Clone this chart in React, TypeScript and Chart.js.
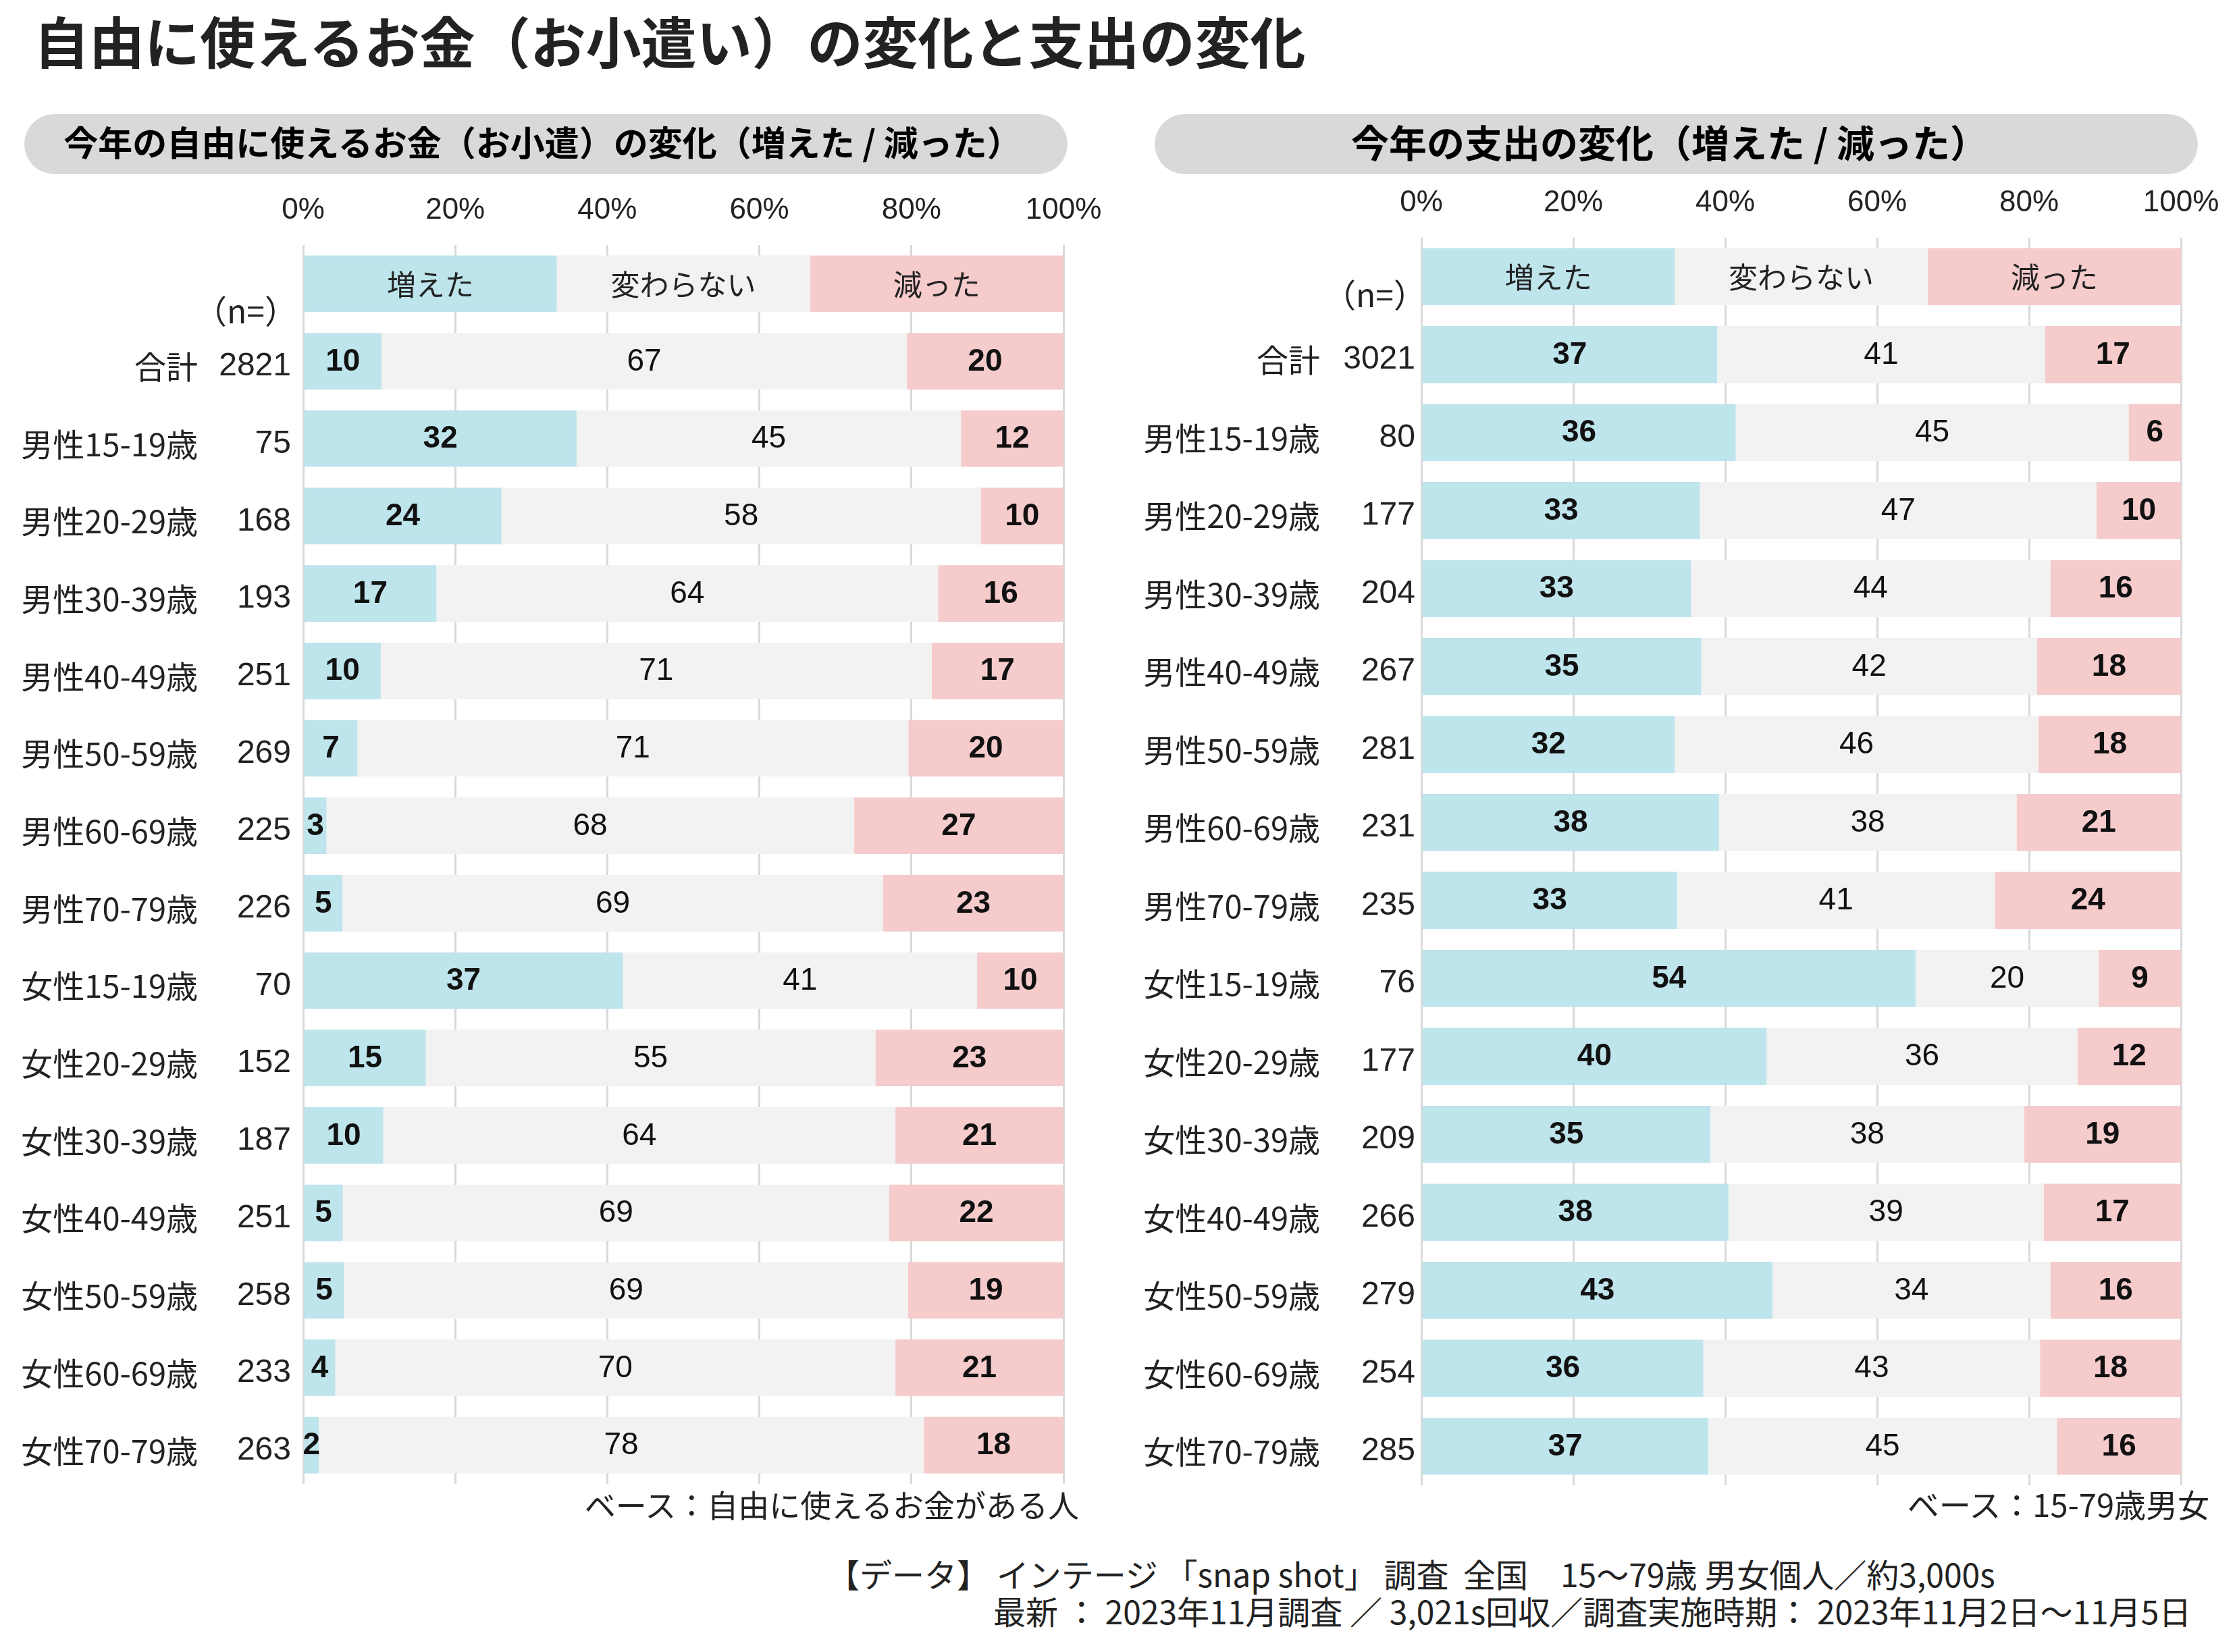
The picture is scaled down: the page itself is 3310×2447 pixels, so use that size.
import React, { useEffect, useRef } from 'react';
import { Chart, registerables } from 'chart.js';

Chart.register(...registerables);

const JP = '"Noto Sans CJK JP", "Noto Sans", sans-serif';
const NUM = '"Liberation Sans", Arial, sans-serif';

const seriesNames = ['増えた', '変わらない', '減った'];
const seriesColors = ['#bee4ec', '#f2f2f2', '#f5cbcc'];
const xTickLabels = ['0%', '20%', '40%', '60%', '80%', '100%'];

const categories = [
  '合計',
  '男性15-19歳', '男性20-29歳', '男性30-39歳', '男性40-49歳', '男性50-59歳', '男性60-69歳', '男性70-79歳',
  '女性15-19歳', '女性20-29歳', '女性30-39歳', '女性40-49歳', '女性50-59歳', '女性60-69歳', '女性70-79歳',
];

// 左：自由に使えるお金（お小遣）の変化
const leftN = [2821, 75, 168, 193, 251, 269, 225, 226, 70, 152, 187, 251, 258, 233, 263];
const leftIncreased = [10, 32, 24, 17, 10, 7, 3, 5, 37, 15, 10, 5, 5, 4, 2];
const leftSame = [67, 45, 58, 64, 71, 71, 68, 69, 41, 55, 64, 69, 69, 70, 78];
const leftDecreased = [20, 12, 10, 16, 17, 20, 27, 23, 10, 23, 21, 22, 19, 21, 18];

// 右：支出の変化
const rightN = [3021, 80, 177, 204, 267, 281, 231, 235, 76, 177, 209, 266, 279, 254, 285];
const rightIncreased = [37, 36, 33, 33, 35, 32, 38, 33, 54, 40, 35, 38, 43, 36, 37];
const rightSame = [41, 45, 47, 44, 42, 46, 38, 41, 20, 36, 38, 39, 34, 43, 45];
const rightDecreased = [17, 6, 10, 16, 18, 18, 21, 24, 9, 12, 19, 17, 16, 18, 16];

type PanelCfg = {
  n: number[];
  values: number[][];
  nameRightX: number;
  nRightX: number;
  nHeaderRightX: number;
  nHeaderOffset: number;
  padding: { left: number; right: number; top: number; bottom: number };
};

function buildChart(canvas: HTMLCanvasElement, cfg: PanelCfg) {
  const sums = cfg.n.map((_, i) => cfg.values[0][i] + cfg.values[1][i] + cfg.values[2][i]);
  const labels = ['', ...categories];
  const datasets = cfg.values.map((vals, k) => ({
    label: seriesNames[k],
    data: [100 / 3, ...vals.map((v, i) => (v / sums[i]) * 100)],
    backgroundColor: seriesColors[k],
    borderWidth: 0,
    barPercentage: 0.73,
    categoryPercentage: 1,
  }));

  const plugin = {
    id: 'panelLabels',
    afterDatasetsDraw(chart: any) {
      const ctx = chart.ctx as CanvasRenderingContext2D;
      ctx.save();
      ctx.textBaseline = 'middle';
      ctx.textAlign = 'center';
      chart.data.datasets.forEach((_: any, di: number) => {
        const meta = chart.getDatasetMeta(di);
        meta.data.forEach((el: any, j: number) => {
          const p = el.getProps(['x', 'y', 'base'], true);
          const cx = (p.x + p.base) / 2;
          let text: string;
          if (j === 0) {
            text = seriesNames[di];
            ctx.font = `400 43px ${JP}`;
            ctx.fillStyle = '#222';
          } else {
            text = String(cfg.values[di][j - 1]);
            ctx.font = di === 1 ? `400 46px ${NUM}` : `700 46px ${NUM}`;
            ctx.fillStyle = '#111';
          }
          ctx.fillText(text, cx, p.y + 1);
        });
      });
      const yScale = chart.scales.y;
      ctx.fillStyle = '#222';
      ctx.textAlign = 'right';
      ctx.font = `400 48px ${JP}`;
      ctx.fillText('（n=）', cfg.nHeaderRightX, yScale.getPixelForValue(0) + cfg.nHeaderOffset);
      categories.forEach((c, i) => {
        const y = yScale.getPixelForValue(i + 1) + 8;
        ctx.textAlign = 'right';
        ctx.font = `400 47px ${JP}`;
        ctx.fillText(c, cfg.nameRightX, y);
        ctx.font = `400 48px ${NUM}`;
        ctx.fillText(String(cfg.n[i]), cfg.nRightX, y);
      });
      ctx.restore();
    },
  };

  return new Chart(canvas, {
    type: 'bar',
    data: { labels, datasets },
    options: {
      indexAxis: 'y',
      responsive: false,
      animation: false,
      layout: { padding: cfg.padding },
      plugins: { legend: { display: false }, tooltip: { enabled: false }, title: { display: false } },
      scales: {
        x: {
          type: 'linear',
          position: 'top',
          stacked: true,
          min: 0,
          max: 100,
          ticks: {
            stepSize: 20,
            padding: 25,
            color: '#222',
            font: { size: 44, family: NUM },
            callback: (_v: any, i: number) => xTickLabels[i],
          },
          grid: { color: '#d9d9d9', lineWidth: 3, drawTicks: false },
          border: { display: false },
          afterFit: (s: any) => {
            s.height = 113;
          },
        },
        y: {
          stacked: true,
          display: false,
        },
      },
    },
    plugins: [plugin],
  } as any);
}

function Panel(props: { cfg: PanelCfg; left: number; top: number; width: number; height: number }) {
  const ref = useRef<HTMLCanvasElement>(null);
  useEffect(() => {
    if (!ref.current) return;
    const chart = buildChart(ref.current, props.cfg);
    return () => chart.destroy();
  }, []);
  return (
    <canvas
      ref={ref}
      width={props.width}
      height={props.height}
      style={{ position: 'absolute', left: props.left, top: props.top, width: props.width, height: props.height }}
    />
  );
}

const leftCfg: PanelCfg = {
  n: leftN,
  values: [leftIncreased, leftSame, leftDecreased],
  nameRightX: 293,
  nRightX: 431,
  nHeaderRightX: 440,
  nHeaderOffset: 40,
  padding: { left: 449, right: 90, top: 0, bottom: 52 },
};

const rightCfg: PanelCfg = {
  n: rightN,
  values: [rightIncreased, rightSame, rightDecreased],
  nameRightX: 305,
  nRightX: 446,
  nHeaderRightX: 462,
  nHeaderOffset: 27,
  padding: { left: 455, right: 90, top: 0, bottom: 39 },
};

const pill = (left: number, width: number, text: string, size: number, padRight: number) => (
  <div
    style={{
      position: 'absolute',
      left,
      top: 169,
      width,
      height: 89,
      borderRadius: 45,
      background: '#d9d9d9',
      display: 'flex',
      alignItems: 'center',
      justifyContent: 'center',
      boxSizing: 'border-box',
      paddingRight: padRight,
      paddingBottom: 10,
      fontFamily: JP,
      fontWeight: 700,
      fontSize: size,
      color: '#000',
      whiteSpace: 'pre',
    }}
  >
    {text}
  </div>
);

const textStyle = (extra: React.CSSProperties): React.CSSProperties => ({
  position: 'absolute',
  fontFamily: JP,
  whiteSpace: 'pre',
  color: '#222',
  ...extra,
});

export default function App() {
  return (
    <div
      style={{
        position: 'absolute',
        left: 0,
        top: 0,
        width: 3310,
        height: 2447,
        background: '#fff',
        overflow: 'hidden',
      }}
    >
      <div style={textStyle({ left: 50, top: 9, height: 100, lineHeight: '100px', fontSize: 82, fontWeight: 700, color: '#222' })}>
        自由に使えるお金（お小遣い）の変化と支出の変化
      </div>
      {pill(36, 1545, '今年の自由に使えるお金（お小遣）の変化（増えた / 減った）', 51, 10)}
      {pill(1710, 1545, '今年の支出の変化（増えた / 減った）', 56, 20)}
      <Panel cfg={leftCfg} left={0} top={250} width={1665} height={2000} />
      <Panel cfg={rightCfg} left={1650} top={239} width={1670} height={2000} />
      <div style={textStyle({ right: 3310 - 1598, top: 2197, height: 60, lineHeight: '60px', fontSize: 46 })}>
        ベース：自由に使えるお金がある人
      </div>
      <div style={textStyle({ right: 3310 - 3272, top: 2197, height: 60, lineHeight: '60px', fontSize: 47 })}>
        ベース：15-79歳男女
      </div>
      <div style={textStyle({ left: 1225, top: 2300, height: 60, lineHeight: '60px', fontSize: 48 })}>
        【データ】 インテージ 「snap shot」 調査  全国　15～79歳 男女個人／約3,000s
      </div>
      <div style={textStyle({ left: 1471, top: 2355, height: 60, lineHeight: '60px', fontSize: 48 })}>
        最新 ： 2023年11月調査 ／ 3,021s回収／調査実施時期： 2023年11月2日～11月5日
      </div>
    </div>
  );
}
